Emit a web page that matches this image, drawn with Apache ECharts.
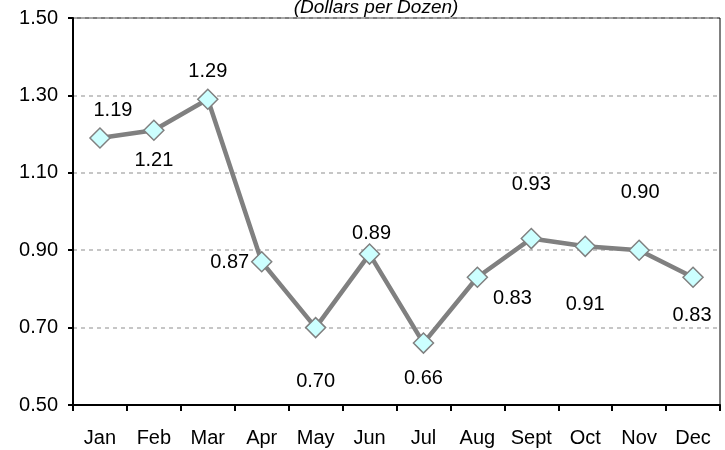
<!DOCTYPE html>
<html><head><meta charset="utf-8">
<script src="https://cdn.jsdelivr.net/npm/echarts@6/dist/echarts.min.js"></script>
<style>html,body{margin:0;padding:0;background:#fff}#c{width:725px;height:450px}</style>
</head><body><div id="c"></div>
<script>
const months = ['Jan','Feb','Mar','Apr','May','Jun','Jul','Aug','Sept','Oct','Nov','Dec'];
const prices = [1.19,1.21,1.29,0.87,0.70,0.89,0.66,0.83,0.93,0.91,0.90,0.83];
const labelOffsets = [[13,-27],[0,30],[0,-28],[-32,1],[0,54],[2,-21],[0,35],[35,21],[0,-54],[0,58],[1,-58],[-1,38]];
const yTicks = {min:0.5, max:1.5, interval:0.2};
const FONT = 'Liberation Sans, Arial, sans-serif';
const chart = echarts.init(document.getElementById('c'));
chart.setOption({
  animation:false,
  graphic:[{type:'text', x:376, y:17, silent:true,
    style:{text:'(Dollars per Dozen)', align:'center', verticalAlign:'bottom',
      font:'italic 19px ' + FONT, fill:'#000'}}],
  grid:{left:73, right:5, top:18, bottom:45, show:true, borderColor:'#000', borderWidth:1},
  xAxis:{type:'category', data:months, boundaryGap:true,
    axisLine:{lineStyle:{color:'#000', width:2}},
    axisTick:{show:true, length:6, lineStyle:{color:'#000', width:2}},
    axisLabel:{fontFamily:FONT, fontSize:20, color:'#000', margin:23}},
  yAxis:{type:'value', min:yTicks.min, max:yTicks.max, interval:yTicks.interval,
    axisLine:{show:true, lineStyle:{color:'#000', width:2}},
    axisTick:{show:true, length:5, lineStyle:{color:'#000', width:2}},
    axisLabel:{fontFamily:FONT, fontSize:20, color:'#000', margin:15, formatter:v=>v.toFixed(2)},
    splitLine:{show:true, lineStyle:{color:'#b4b4b4', type:[4,4], width:1.5}}},
  series:[{type:'line', data:prices.map((v,i)=>({value:v, label:{offset:labelOffsets[i]}})),
    lineStyle:{color:'#808080', width:4.5},
    symbol:'diamond', symbolSize:20,
    itemStyle:{color:'#ccffff', borderColor:'#808080', borderWidth:1.5},
    label:{show:true, position:'inside', align:'center', verticalAlign:'middle',
      fontFamily:FONT, fontSize:20, color:'#000', formatter:p=>p.value.toFixed(2)}}]
});
</script></body></html>
